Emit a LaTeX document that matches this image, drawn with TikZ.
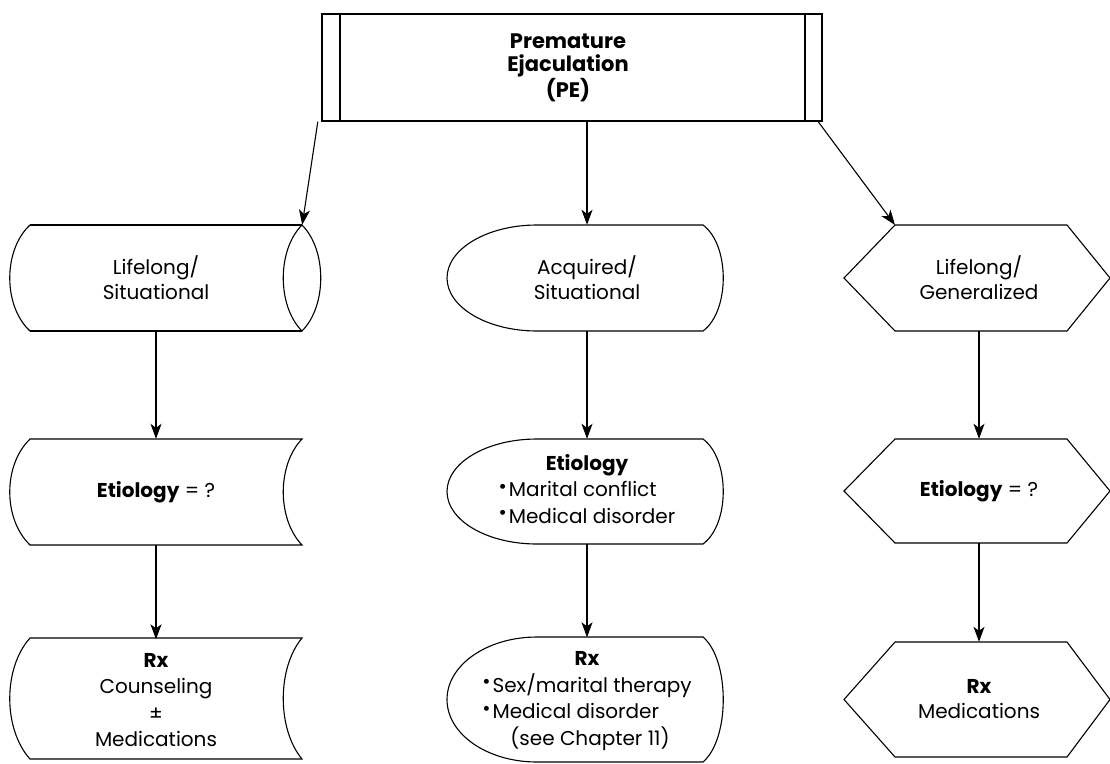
\documentclass[tikz,border=0pt]{standalone}
\usepackage{fontspec}
\setmainfont{Poppins}
\usetikzlibrary{arrows.meta}
\newcommand{\bul}{\raisebox{0.18em}{•}\hspace{2pt}}
\begin{document}
\begin{tikzpicture}[x=1pt,y=-1pt,
  shp/.style={draw=black,line width=1.1pt,line join=miter},
  lbl/.style={inner sep=0pt,align=center},
  txt/.style={font=\fontsize{20}{25}\selectfont},
  txtb/.style={font=\fontsize{20}{26.5}\selectfont},
  conn/.style={line width=1.1pt,-{Stealth[length=15pt,width=11pt,inset=4pt]}}]
\useasboundingbox (0,0) rectangle (1110,763);

% top box
\draw[shp] (322,14) rectangle (822,121);
\draw[shp] (340,14) -- (340,121);
\draw[shp] (805,14) -- (805,121);
\node[lbl, minimum width=500pt, minimum height=107pt, font=\bfseries\fontsize{21}{23}\selectfont] (pe) at (568,68) {Premature\\Ejaculation\\(PE)};

% left column
\draw[shp] (30,225) -- (302,225) (30,331) -- (302,331);
\draw[shp] (30,225) .. controls (3,250) and (3,306) .. (30,331);
\draw[shp] (302,225) .. controls (277,250) and (277,306) .. (302,331) .. controls (327,306) and (327,250) .. (302,225);
\node[lbl, txt, minimum width=292pt, minimum height=106pt] (lsit) at (156,278) {Lifelong/\\Situational};

\draw[shp] (30,439) -- (302,439) .. controls (277,465) and (277,519) .. (302,545) -- (30,545) .. controls (3,519) and (3,465) .. (30,439) -- cycle;
\node[lbl, txt, minimum width=292pt, minimum height=106pt] (leti) at (156,492) {\textbf{Etiology} = ?};

\draw[shp] (30,638) -- (302,638) .. controls (277,668) and (277,729) .. (302,759) -- (30,759) .. controls (3,729) and (3,668) .. (30,638) -- cycle;
\node[lbl, txtb, minimum width=292pt, minimum height=121pt] (lrx) at (156,700) {\textbf{Rx}\\Counseling\\±\\Medications};

% middle column
\draw[shp] (537,225) -- (703,225) .. controls (730,245) and (730,311) .. (703,331) -- (537,331) .. controls (487,331) and (447,307) .. (447,278) .. controls (447,249) and (487,225) .. (537,225) -- cycle;
\node[lbl, txt, minimum width=276pt, minimum height=106pt] (acq) at (587,278) {Acquired/\\Situational};

\draw[shp] (537,439) -- (703,439) .. controls (730,459) and (730,524) .. (703,544) -- (537,544) .. controls (487,544) and (447,520.5) .. (447,491.5) .. controls (447,462.5) and (487,439) .. (537,439) -- cycle;
\node[lbl, txtb, minimum width=276pt, minimum height=105pt] (meti) at (587,491.5) {\begin{tabular}{@{}l@{}}\multicolumn{1}{@{}c@{}}{\bfseries Etiology}\\ \bul Marital conflict\\ \bul Medical disorder\end{tabular}};

\draw[shp] (537,637) -- (703,637) .. controls (730,660) and (730,739) .. (703,762) -- (537,762) .. controls (487,762) and (447,734) .. (447,699.5) .. controls (447,665) and (487,637) .. (537,637) -- cycle;
\node[lbl, txtb, minimum width=276pt, minimum height=125pt] (mrx) at (587,700) {\begin{tabular}{@{}l@{}}\multicolumn{1}{@{}c@{}}{\bfseries Rx}\\ \bul Sex/marital therapy\\ \bul Medical disorder\\ \hspace*{28pt}(see Chapter 11)\end{tabular}};

% right column
\draw[shp] (844,278) -- (895,225) -- (1067,225) -- (1110,278) -- (1067,331) -- (895,331) -- cycle;
\coordinate (hexAtl) at (895,225);
\node[lbl, txt, minimum width=266pt, minimum height=106pt] (rgen) at (979,278) {Lifelong/\\Generalized};

\draw[shp] (844,491) -- (895,439) -- (1067,439) -- (1110,491) -- (1067,543) -- (895,543) -- cycle;
\node[lbl, txt, minimum width=266pt, minimum height=104pt] (reti) at (979,491) {\textbf{Etiology} = ?};

\draw[shp] (844,699.5) -- (895,642) -- (1067,642) -- (1110,699.5) -- (1067,757) -- (895,757) -- cycle;
\node[lbl, txt, minimum width=266pt, minimum height=115pt] (rrx) at (979,699.5) {\textbf{Rx}\\Medications};

% connectors
\draw[conn] (pe.south west) -- (lsit.north east);
\draw[conn] (pe.south -| acq.north) -- (acq.north);
\draw[conn] (pe.south east) -- (hexAtl);
\draw[conn] (lsit.south) -- (leti.north);
\draw[conn] (leti.south) -- (lrx.north);
\draw[conn] (acq.south) -- (meti.north);
\draw[conn] (meti.south) -- (mrx.north);
\draw[conn] (rgen.south) -- (reti.north);
\draw[conn] (reti.south) -- (rrx.north);
\end{tikzpicture}
\end{document}
